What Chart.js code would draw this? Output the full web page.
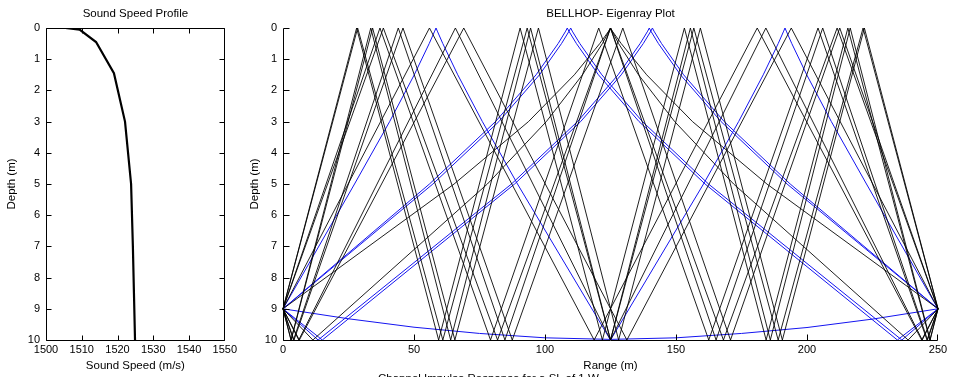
<!DOCTYPE html>
<html>
<head>
<meta charset="utf-8">
<script src="https://cdn.jsdelivr.net/npm/chart.js@4.4.1/dist/chart.umd.min.js"></script>
<style>
body { margin:0; width:953px; height:377px; overflow:hidden; background:#fff; position:relative; font-family:"Liberation Sans", Arial, sans-serif; }
#wrapL { position:absolute; left:0; top:0; width:240px; height:377px; }
#wrapR { position:absolute; left:240px; top:0; width:713px; height:377px; }
#below { position:absolute; left:378px; top:372px; font-size:11.5px; white-space:nowrap; color:#000; }
</style>
</head>
<body>
<div id="wrapL"><canvas id="ssp"></canvas></div>
<div id="wrapR"><canvas id="rays"></canvas></div>
<div id="below">Channel Impulse Response for a SL of 1 W</div>
<script>
// sound speed profile
var sspDepth = [0, 0.05, 0.45, 1.45, 3, 5, 7, 8.5, 10];
var sspSpeed = [1505.4, 1509.4, 1514, 1519, 1522.1, 1523.8, 1524.3, 1524.6, 1524.9];

var speedTicks = [1500, 1510, 1520, 1530, 1540, 1550];
var rangeTicks = [0, 50, 100, 150, 200, 250];
var depthTicks = [0, 1, 2, 3, 4, 5, 6, 7, 8, 9, 10];

// eigenrays, [range (m), depth (m)]
var rayBot = [[0,9],[25,9.32],[50,9.59],[75,9.79],[100,9.93],[125,9.98],[150,9.93],[175,9.79],[200,9.6],[225,9.33],[250,9]];
var raySurf = [[0,9],[65.3,5],[93.7,3],[111.2,1.5],[120.9,0.5],[124.3,0.1],[125,0],[125.7,0.1],[129.1,0.5],[138.8,1.5],[156.3,3],[184.7,5],[250,9]];
var rayUpA = [[0,9],[55.9,5],[81.1,3],[96.6,1.5],[105,0.5],[107.9,0.1],[108.5,0],[109.1,0.1],[112,0.5],[120.4,1.5],[135.9,3],[161.1,5],[234.5,10],[250,9]];
var rayUpB = [[0,9],[57.2,5],[82.4,3],[97.9,1.5],[106.3,0.5],[109.2,0.1],[109.8,0],[110.4,0.1],[113.3,0.5],[121.7,1.5],[137.2,3],[162.4,5],[236.2,10],[250,9]];
var rayDnA = [[0,9],[13.4,10],[87.2,5],[112.4,3],[127.9,1.5],[136.3,0.5],[139.2,0.1],[139.8,0],[140.4,0.1],[143.3,0.5],[151.7,1.5],[167.2,3],[192.4,5],[250,9]];
var rayDnB = [[0,9],[15,10],[88.4,5],[113.6,3],[129.1,1.5],[137.5,0.5],[140.4,0.1],[141,0],[141.6,0.1],[144.5,0.5],[152.9,1.5],[168.4,3],[193.6,5],[250,9]];
var ray22 = [[0,9],[11.4,10],[78,5],[100.5,3],[114.3,1.5],[121.9,0.5],[124.4,0.1],[125,0],[125.6,0.1],[128.1,0.5],[135.7,1.5],[149.5,3],[172,5],[238.6,10],[250,9]];
var ray38 = [[0,9],[27.3,5],[40.7,3],[50.1,1.5],[55.8,0.5],[57.9,0.1],[58.4,0],[58.9,0.1],[61,0.5],[66.7,1.5],[76.1,3],[89.5,5],[125,10],[160.5,5],[173.9,3],[183.3,1.5],[189,0.5],[191.1,0.1],[191.6,0],[192.1,0.1],[194.2,0.5],[199.9,1.5],[209.3,3],[222.7,5],[250,9]];
var ray40a = [[0,9],[55.9,0],[118.75,10],[181,0],[243.75,10],[250,9]];
var ray40b = [[0,9],[6.25,10],[69,0],[131.25,10],[194,0],[250,9]];
var ray42 = [[0,9],[6,10],[65.8,0],[125,10],[184.3,0],[244,10],[250,9]];
var ray58 = [[0,9],[38.3,0],[81.9,10],[125,0],[168.1,10],[211.5,0],[250,9]];
var ray60a = [[0,9],[37,0],[79.2,10],[120.5,0],[162.5,10],[204.2,0],[245.8,10],[250,9]];
var ray60b = [[0,9],[4.2,10],[45.8,0],[87.5,10],[129.7,0],[170.8,10],[212.5,0],[250,9]];
var ray62 = [[0,9],[4,10],[44,0],[84.7,10],[125,0],[165.3,10],[206,0],[246,10],[250,9]];
var ray78 = [[0,9],[28.5,0],[61,10],[93.2,0],[125,10],[156.8,0],[189,10],[221.4,0],[250,9]];
var ray80a = [[0,9],[28.1,0],[59.4,10],[90.5,0],[121.9,10],[153.2,0],[184.4,10],[215.6,0],[246.9,10],[250,9]];
var ray80b = [[0,9],[3.1,10],[34.2,0],[65.6,10],[97.5,0],[128.1,10],[159.3,0],[190.6,10],[221.9,0],[250,9]];
var ray82 = [[0,9],[3.05,10],[33.5,0],[64,10],[94.5,0],[125,10],[155.5,0],[186,10],[216.5,0],[247,10],[250,9]];

var blackRays = [raySurf, ray22, ray40a, ray40b, ray42, ray58, ray60a, ray60b, ray62, ray78, ray80a, ray80b, ray82];
var blueRays = [rayBot, rayUpA, rayUpB, rayDnA, rayDnB, ray38];

Chart.defaults.font.family = "'Liberation Sans', Arial, sans-serif";
Chart.defaults.color = '#000';

// matlab style box + inward ticks
var matlabAxes = {
  id: 'matlabAxes',
  afterDatasetsDraw: function (chart, args, opts) {
    var ctx = chart.ctx, a = chart.chartArea;
    var xs = chart.scales.x, ys = chart.scales.y;
    var L = Math.round(a.left) + 0.5, B = Math.round(a.bottom) + 0.5;
    var T = Math.round(a.top) + 0.5, R = Math.round(a.right) - 0.5;
    var len = opts.tickLen;
    ctx.save();
    ctx.strokeStyle = '#000';
    ctx.lineWidth = 1;
    ctx.beginPath();
    ctx.moveTo(L, T); ctx.lineTo(L, B); ctx.lineTo(R, B);
    if (opts.box) { ctx.lineTo(R, T); ctx.lineTo(L, T); }
    xs.ticks.forEach(function (t) {
      var px = Math.round(xs.getPixelForValue(t.value)) + 0.5;
      if (px > R) px = R;
      ctx.moveTo(px, B); ctx.lineTo(px, B - len);
      if (opts.box) { ctx.moveTo(px, T); ctx.lineTo(px, T + len); }
    });
    ys.ticks.forEach(function (t) {
      var py = Math.round(ys.getPixelForValue(t.value)) + 0.5;
      ctx.moveTo(L, py); ctx.lineTo(L + len, py);
      if (opts.box) { ctx.moveTo(R, py); ctx.lineTo(R - len, py); }
    });
    ctx.stroke();
    ctx.restore();
  }
};

function axisX(min, max, list, label, height) {
  return {
    type: 'linear', min: min, max: max,
    afterBuildTicks: function (s) { s.ticks = list.map(function (v) { return { value: v }; }); },
    afterFit: function (s) { s.height = height; },
    grid: { display: false, drawTicks: false }, border: { display: false },
    ticks: { font: { size: 11 }, padding: 3, maxRotation: 0, callback: function (v) { return String(v); } },
    title: { display: true, text: label, font: { size: 11.5 }, padding: { top: 0, bottom: 4 } }
  };
}
function axisY(width, titlePad) {
  return {
    type: 'linear', min: 0, max: 10, reverse: true,
    afterBuildTicks: function (s) { s.ticks = depthTicks.map(function (v) { return { value: v }; }); },
    afterFit: function (s) { s.width = width; },
    grid: { display: false, drawTicks: false }, border: { display: false },
    ticks: { font: { size: 11 }, padding: 6, callback: function (v) { return String(v); } },
    title: { display: true, text: 'Depth (m)', font: { size: 11.5 }, padding: { top: titlePad, bottom: 0 } }
  };
}
function titleOpts(text) {
  return { display: true, text: text, fullSize: false, font: { size: 11.5, weight: 'normal' }, color: '#000', padding: { top: 7, bottom: 7.2 } };
}

new Chart(document.getElementById('ssp'), {
  type: 'line',
  data: {
    datasets: [{
      data: sspSpeed.map(function (s, i) { return { x: s, y: sspDepth[i] }; }),
      borderColor: '#000', borderWidth: 2.2, pointRadius: 0, tension: 0
    }]
  },
  options: {
    responsive: true, maintainAspectRatio: false, animation: false,
    layout: { padding: { left: 0, right: 13, top: 0, bottom: 0 } },
    scales: { x: axisX(1500, 1550, speedTicks, 'Sound Speed (m/s)', 37), y: axisY(46, 5) },
    plugins: { legend: { display: false }, tooltip: { enabled: false }, title: titleOpts('Sound Speed Profile'), matlabAxes: { box: true, tickLen: 5 } }
  },
  plugins: [matlabAxes]
});

var rayData = [];
blackRays.forEach(function (r) {
  rayData.push({ data: r.map(function (p) { return { x: p[0], y: p[1] }; }), borderColor: 'rgba(0,0,0,0.88)', borderWidth: 1, pointRadius: 0, tension: 0, clip: 2 });
});
blueRays.forEach(function (r) {
  rayData.push({ data: r.map(function (p) { return { x: p[0], y: p[1] }; }), borderColor: '#1414f0', borderWidth: 1, pointRadius: 0, tension: 0, clip: 2 });
});

new Chart(document.getElementById('rays'), {
  type: 'line',
  data: { datasets: rayData },
  options: {
    responsive: true, maintainAspectRatio: false, animation: false,
    layout: { padding: { left: 0, right: 15, top: 0, bottom: 0 } },
    scales: { x: axisX(0, 250, rangeTicks, 'Range (m)', 37), y: axisY(43, 8) },
    plugins: { legend: { display: false }, tooltip: { enabled: false }, title: titleOpts('BELLHOP- Eigenray Plot'), matlabAxes: { box: false, tickLen: 6 } }
  },
  plugins: [matlabAxes]
});
</script>
</body>
</html>
